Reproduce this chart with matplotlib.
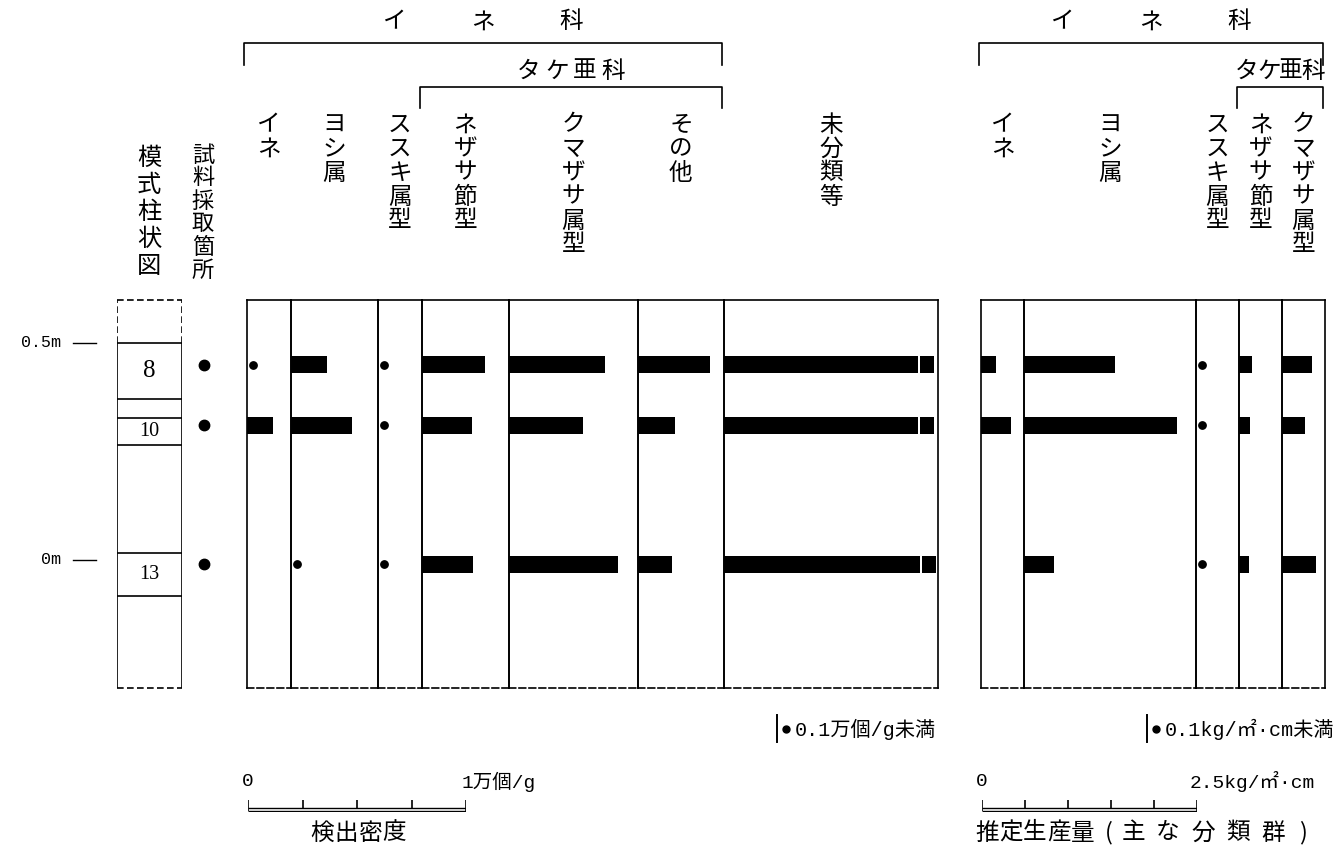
"""プラント・オパール分析結果（検出密度・推定生産量）の図。"""
import matplotlib

matplotlib.use("Agg")
import matplotlib.pyplot as plt

plt.rcParams["font.family"] = ["Noto Sans CJK JP", "DejaVu Sans"]
MONO = ["Liberation Mono", "Noto Sans CJK JP"]
SERIF = ["Liberation Serif", "Noto Sans CJK JP"]

W, H = 1343, 848

# ---- データ ----
SAMPLE_NO = ["8", "10", "13"]
SAMPLE_DEPTH = [0.45, 0.31, -0.01]  # m

# 模式柱状図の層境界（m）と試料番号
LAYER_BOUNDS = [0.50, 0.37, 0.327, 0.265, 0.017, -0.082]
LAYER_LABELS = ["8", "", "10", "", "13", ""]
DEPTH_MARKS = [0.5, 0.0]
DEPTH_MARK_LABELS = ["0.5m", "0m"]

# 検出密度（万個/g）  0.1未満は点で表示
DENS_TAXA = ["イネ", "ヨシ属", "ススキ属型", "ネザサ節型", "クマザサ属型", "その他", "未分類等"]
DENS_VALUES = [
    [0.05, 0.12, 0.0],
    [0.165, 0.28, 0.05],
    [0.05, 0.05, 0.05],
    [0.29, 0.23, 0.235],
    [0.44, 0.34, 0.50],
    [0.33, 0.17, 0.155],
    [0.962, 0.962, 0.970],  # 枠外（途中省略）
]
DENS_COL_WIDTH = [0.20, 0.40, 0.20, 0.40, 0.59, 0.395, 0.98]
DENS_TICKS = [0, 0.25, 0.5, 0.75, 1.0]
DENS_BROKEN = ["未分類等"]

# 推定生産量（kg/㎡·cm）
PROD_TAXA = ["イネ", "ヨシ属", "ススキ属型", "ネザサ節型", "クマザサ属型"]
PROD_VALUES = [
    [0.18, 0.35, 0.0],
    [1.06, 1.78, 0.35],
    [0.05, 0.05, 0.05],
    [0.15, 0.13, 0.12],
    [0.35, 0.27, 0.40],
]
PROD_COL_WIDTH = [0.5, 2.0, 0.5, 0.5, 0.5]
PROD_TICKS = [0, 0.5, 1.0, 1.5, 2.0, 2.5]

TRACE = 0.1

# ---- レイアウト（px） ----
TOP, BOT = 300, 688
DEPTH_LIM = (-0.295, 0.599)
PX_PER_M = (BOT - TOP) / (DEPTH_LIM[1] - DEPTH_LIM[0])
BAR_H = 17 / PX_PER_M
LW = 1.2
DASH = (0, (4, 2))
DOT_PX = 6

fig = plt.figure(figsize=(W / 100, H / 100), dpi=100)
ov = fig.add_axes([0, 0, 1, 1])
ov.set_xlim(0, W)
ov.set_ylim(H, 0)
ov.axis("off")


def vtext(x, y0, s, step, size=17):
    for i, ch in enumerate(s):
        ov.text(x, y0 + i * step, ch, ha="center", va="center", fontsize=size)


def htext(x0, y, s, steps, size=17):
    """1文字ずつ並べる（字間の調整用）。"""
    x = x0
    for ch, st in zip(s, steps):
        ov.text(x, y, ch, ha="center", va="center", fontsize=size)
        x += st


def bracket(x1, x2, y, drop, label, label_y, step):
    ov.plot([x1, x1, x2, x2], [y + drop, y, y, y + drop], color="k", lw=LW)
    cx = (x1 + x2) / 2
    n = len(label)
    for i, ch in enumerate(label):
        ov.text(cx + (i - (n - 1) / 2) * step, label_y, ch, ha="center",
                va="center", fontsize=17)


def draw_panel(x0, ppu, widths, taxa, values, broken=()):
    edges = [x0]
    for w in widths:
        edges.append(edges[-1] + w * ppu)
    for i, (taxon, w, vals) in enumerate(zip(taxa, widths, values)):
        ax = fig.add_axes([edges[i] / W, 1 - BOT / H, w * ppu / W, (BOT - TOP) / H])
        ax.set_xlim(0, w)
        ax.set_ylim(*DEPTH_LIM)
        ax.set_xticks([])
        ax.set_yticks([])
        ax.patch.set_alpha(0)
        for sp in ax.spines.values():
            sp.set_linewidth(LW)
        ax.spines["bottom"].set_linestyle(DASH)
        for d, v in zip(SAMPLE_DEPTH, vals):
            if v <= 0:
                continue
            if v < TRACE:
                ax.plot(DOT_PX / ppu, d, "o", color="k", ms=5.3)
                continue
            ax.barh(d, v, height=BAR_H, color="k", linewidth=0)
            if taxon in broken:
                # 途中省略の切れ目
                ax.barh(d, 2.5 / ppu, left=v - 16 / ppu, height=BAR_H * 1.3,
                        color="white", linewidth=0)
        vtext(edges[i] + w * ppu / 2, 125, taxon, 24)
    return edges


def scale_bar(x0, ppu, ticks, lo_label, hi_label, hi_shift):
    length = ticks[-1]
    ax = fig.add_axes([x0 / W, 1 - 812 / H, length * ppu / W, 14 / H])
    ax.set_xlim(0, length)
    ax.set_ylim(0, 14)
    ax.axis("off")
    ax.hlines([4, 1], 0, length, color="k", lw=1.0)
    ax.vlines(ticks[1:-1], 4, 12, color="k", lw=LW)
    ax.vlines([ticks[0], ticks[-1]], 1, 12, color="k", lw=LW)
    ax.text(0, 30, lo_label, ha="center", va="center", fontsize=14,
            family=MONO, clip_on=False)
    ax.text(length - hi_shift / ppu, 30, hi_label, ha="left", va="center",
            fontsize=14, family=MONO, clip_on=False)


# ---- 模式柱状図・試料採取箇所 ----
col = fig.add_axes([117 / W, 1 - BOT / H, 65 / W, (BOT - TOP) / H])
col.set_xlim(0, 1)
col.set_ylim(*DEPTH_LIM)
col.axis("off")
col.vlines([0, 1], DEPTH_LIM[0], LAYER_BOUNDS[0], color="k", lw=LW)
col.vlines([0, 1], LAYER_BOUNDS[0], DEPTH_LIM[1], color="k", lw=LW, linestyles=[DASH])
col.hlines(LAYER_BOUNDS, 0, 1, color="k", lw=LW)
col.hlines(DEPTH_LIM, 0, 1, color="k", lw=LW, linestyles=[DASH], clip_on=False)
lower = LAYER_BOUNDS[1:] + [DEPTH_LIM[0]]
for top, bot, lab in zip(LAYER_BOUNDS, lower, LAYER_LABELS):
    if lab:
        col.text(0.5, (top + bot) / 2, lab, ha="center", va="center",
                 fontsize=18 if lab == "8" else 14.5, family=SERIF)
for d, lab in zip(DEPTH_MARKS, DEPTH_MARK_LABELS):
    col.plot([-0.68, -0.33], [d, d], color="k", lw=1.0, clip_on=False)
    col.text(-0.86, d, lab, ha="right", va="center", fontsize=12,
             family=MONO, clip_on=False)
col.plot([1.34] * len(SAMPLE_DEPTH), SAMPLE_DEPTH, "o", color="k", ms=7.5,
         clip_on=False)

vtext(149, 158, "模式柱状図", 27, 17.5)
vtext(203, 155, "試料採取箇所", 23, 16)

# ---- 検出密度 ----
d_edges = draw_panel(247, 218.3, DENS_COL_WIDTH, DENS_TAXA, DENS_VALUES, DENS_BROKEN)
bracket(d_edges[0] - 3, d_edges[6] - 2, 43, 22, "イネ科", 22, 88)
bracket(d_edges[3] - 2, d_edges[6] - 2, 87, 21, "タケ亜科", 71, 28)

# ---- 推定生産量 ----
p_edges = draw_panel(981, 86, PROD_COL_WIDTH, PROD_TAXA, PROD_VALUES)
bracket(p_edges[0] - 2, p_edges[5] - 2, 43, 22, "イネ科", 22, 88)
bracket(p_edges[3] - 2, p_edges[5] - 2, 87, 21, "タケ亜科", 71, 22)

# ---- 凡例 ----
for bx, txt in [(777, "0.1万個/g未満"), (1147, "0.1kg/㎡·cm未満")]:
    ov.plot([bx, bx], [715, 742], color="k", lw=1.4)
    ov.plot(bx + 9, 729, "o", color="k", ms=5)
    ov.text(bx + 18, 729, txt, ha="left", va="center", fontsize=14.5, family=MONO)

# ---- スケール ----
scale_bar(248, 218.3, DENS_TICKS, "0", "1万個/g", 5)
scale_bar(982, 86, PROD_TICKS, "0", "2.5kg/㎡·cm", 7)
htext(322, 833, "検出密度", [24] * 4)
htext(987, 833, "推定生産量(主な分類群)",
      [24, 24, 24, 24, 26, 24, 35, 35, 35, 35, 30, 0])

fig.savefig("out.png", dpi=100)
